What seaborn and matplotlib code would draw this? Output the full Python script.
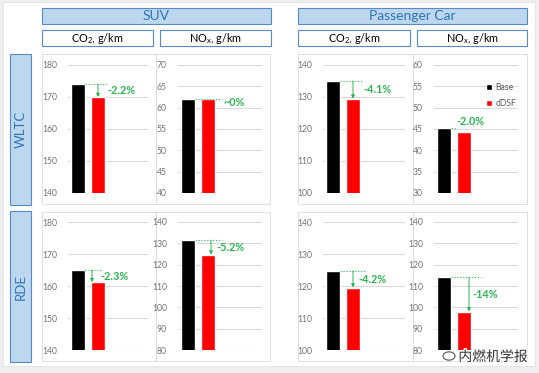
import numpy as np
import pandas as pd
import seaborn as sns
import matplotlib
matplotlib.use('Agg')
import matplotlib.pyplot as plt
from matplotlib.patches import Rectangle, Circle
import matplotlib.patheffects as pe

# Data
cases = ['Base', 'dDSF']
suv_wltc_co2 = [174.0, 170.0]
suv_wltc_nox = [62.0, 62.0]
pc_wltc_co2 = [135.0, 129.5]
pc_wltc_nox = [45.2, 44.3]
suv_rde_co2 = [165.0, 161.2]
suv_rde_nox = [131.5, 124.7]
pc_rde_co2 = [124.8, 119.5]
pc_rde_nox = [114.0, 98.0]
change_labels = ['-2.2%', '~0%', '-4.1%', '-2.0%', '-2.3%', '-5.2%', '-4.2%', '-14%']

groups = ['SUV', 'Passenger Car']
metrics = ['CO$_2$, g/km', 'NO$_x$, g/km']
cycles = ['WLTC', 'RDE']

sns.set_theme(style='white')
plt.rcParams['font.family'] = ['Lato', 'DejaVu Sans']
plt.rcParams['mathtext.default'] = 'regular'

W, H = 539, 373
fig = plt.figure(figsize=(W / 100, H / 100), dpi=100)
fig.patch.set_facecolor('#eeeeee')


def frac(x0, y0, x1, y1):
    # pixel box (top-left origin) -> figure fraction rect
    return [x0 / W, 1 - y1 / H, (x1 - x0) / W, (y1 - y0) / H]


def box(x0, y0, x1, y1, fc, ec, lw=0.8):
    l, b, w, h = frac(x0, y0, x1, y1)
    fig.add_artist(Rectangle((l, b), w, h, transform=fig.transFigure,
                             facecolor=fc, edgecolor=ec, linewidth=lw, zorder=0))


def label(x, y, s, **kw):
    fig.text(x / W, 1 - y / H, s, ha='center', va='center', **kw)


# white card
box(3, 2, 535, 366, 'white', '#e2e2e2', 0.6)

light_blue = '#bdd7ee'
edge_blue = '#5a8ac6'
text_blue = '#2e75b6'
green = '#2ab453'

# group headers
for (x0, x1), g in zip([(42, 271), (298, 527)], groups):
    box(x0, 8, x1, 24, light_blue, edge_blue)
    label((x0 + x1) / 2, 16.5, g, color=text_blue, fontsize=10)

# metric headers
for (x0, x1), m in zip([(42, 153), (160, 271), (298, 410), (417, 527)], metrics * 2):
    box(x0, 30, x1, 46, 'white', edge_blue)
    label((x0 + x1) / 2, 38.5, m, color='black', fontsize=7.8)

# row labels
for (y0, y1), c in zip([(54, 205), (211, 362)], cycles):
    box(10, y0, 31, y1, light_blue, edge_blue)
    label(20.5, (y0 + y1) / 2, c, color=text_blue, fontsize=9.5, rotation=90)

# panel frames
for (x0, x1) in [(42, 156), (156, 270), (298, 413), (413, 527)]:
    for (y0, y1) in [(54, 204), (212, 361)]:
        box(x0, y0, x1, y1, 'white', '#d9d9d9', 0.6)

panels = [
    # values, ylim, step, axes x0, x1, row, arrow_x, text_x, line_end
    (suv_wltc_co2, (140, 180), 10, 68, 148, 0, 1.0, 1.45, 1.5),
    (suv_wltc_nox, (40, 70), 5, 178, 262, 0, None, 1.75, 1.7),
    (pc_wltc_co2, (100, 140), 10, 323, 405, 0, 1.0, 1.5, 1.5),
    (pc_wltc_nox, (30, 60), 5, 434, 518, 0, None, 1.3, 0.66),
    (suv_rde_co2, (140, 180), 10, 68, 148, 1, 0.7, 1.1, 1.15),
    (suv_rde_nox, (80, 140), 10, 178, 262, 1, 1.15, 1.4, 1.7),
    (pc_rde_co2, (100, 140), 10, 323, 405, 1, 1.0, 1.25, 1.6),
    (pc_rde_nox, (80, 140), 10, 434, 518, 1, 1.25, 1.4, 1.85),
]
row_y = [(65, 193), (222, 350)]

for i, (vals, ylim, step, x0, x1, row, arrow_x, text_x, line_end) in enumerate(panels):
    y0, y1 = row_y[row]
    ax = fig.add_axes(frac(x0, y0, x1, y1))
    df = pd.DataFrame({'case': cases, 'value': vals})
    show_legend = (i == 3)
    sns.barplot(data=df, x='case', y='value', hue='case',
                palette=['black', '#ff0000'], width=0.68, errorbar=None,
                saturation=1, legend=show_legend, ax=ax, zorder=3)
    ax.set_facecolor('none')
    ax.set_ylim(*ylim)
    ax.set_yticks(np.arange(ylim[0], ylim[1] + 1, step))
    ax.set_xlim(-0.5, -0.5 + (x1 - x0) / 20)
    ax.set_xticks([])
    ax.set_xlabel('')
    ax.set_ylabel('')
    ax.grid(axis='y', color='#d9d9d9', linewidth=0.8, zorder=0)
    ax.grid(axis='x', visible=False)
    for s in ax.spines.values():
        s.set_visible(False)
    ax.tick_params(axis='y', length=0, pad=8, labelsize=6.2, labelcolor='#737373')

    base, new = vals
    # dotted reference line at base level
    ax.plot([0.34, line_end], [base, base], linestyle=':', color=green,
            linewidth=0.8, zorder=4)
    if arrow_x is not None:
        ax.annotate('', xy=(arrow_x, new), xytext=(arrow_x, base),
                    arrowprops=dict(arrowstyle='-|>', color=green, lw=0.7,
                                    mutation_scale=5, shrinkA=0, shrinkB=0),
                    zorder=5)
        ax.text(text_x, (base + new) / 2, change_labels[i], color=green,
                fontsize=7.8, fontweight='bold', ha='left', va='center', zorder=5)
    elif i == 1:
        ax.text(text_x, base - 0.8, change_labels[i], color=green,
                fontsize=7.8, fontweight='bold', ha='left', va='center', zorder=5)
    else:
        ax.text(text_x, base + 0.2, change_labels[i], color=green,
                fontsize=7.8, fontweight='bold', ha='center', va='bottom', zorder=5)

    if show_legend:
        handles, labels = ax.get_legend_handles_labels()
        ax.legend(handles, labels, loc='upper left', bbox_to_anchor=(0.53, 0.92),
                  frameon=False, fontsize=6.2, handlelength=0.7, handleheight=0.7,
                  handletextpad=0.35, labelspacing=0.8, labelcolor='#595959')

# watermark
label(493, 357, '内燃机学报', fontsize=10, color='#333333',
      family=['Noto Sans CJK SC', 'DejaVu Sans'],
      path_effects=[pe.withStroke(linewidth=2, foreground='white')])
cx, cy = 449 / W, 1 - 356 / H
fig.add_artist(Circle((cx, cy), 6 / W, transform=fig.transFigure,
                      facecolor='white', edgecolor='#555555', linewidth=0.8, zorder=6))

fig.savefig('out.png', dpi=100, facecolor=fig.get_facecolor())
